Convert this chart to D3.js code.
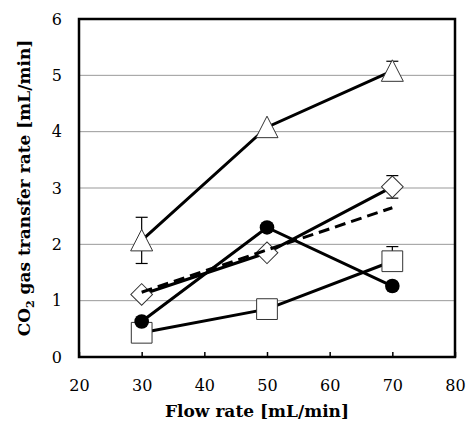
<!DOCTYPE html>
<html lang="en">
<head>
<meta charset="UTF-8">
<title>CO2 gas transfer rate</title>
<script src="https://d3js.org/d3.v7.min.js"></script>
<style>
  body { margin: 0; background: #fff; }
  text { font-family: "DejaVu Serif", serif; fill: #000; }
</style>
</head>
<body>
<div id="chart"></div>
<script>
// data
const flowRates = [30, 50, 70];
const triangleVals = [2.07, 4.08, 5.08];
const triangleErrUp = [0.41, 0, 0.17];
const triangleErrDown = [0.41, 0, 0.17];
const diamondVals = [1.11, 1.85, 3.02];
const diamondErrUp = [0, 0, 0.2];
const diamondErrDown = [0, 0, 0.2];
const circleVals = [0.63, 2.3, 1.26];
const circleErrUp = [0, 0, 0];
const circleErrDown = [0, 0, 0];
const squareVals = [0.43, 0.85, 1.7];
const squareErrUp = [0, 0, 0.26];
const squareErrDown = [0, 0, 0.1];
const dashedVals = [1.15, 1.9, 2.65];
const xTicks = [20, 30, 40, 50, 60, 70, 80];
const yTicks = [0, 1, 2, 3, 4, 5, 6];

const svg = d3.select("#chart").append("svg")
    .attr("width", 470)
    .attr("height", 426);

const margin = {top: 19, right: 15, bottom: 69, left: 79},
      width = 470 - margin.left - margin.right,
      height = 426 - margin.top - margin.bottom,
      g = svg.append("g").attr("transform", `translate(${margin.left},${margin.top})`);

const x = d3.scaleLinear().domain([20, 80]).range([0, width]);
const y = d3.scaleLinear().domain([0, 6]).range([height, 0]);

// gridlines
g.append("g")
  .selectAll("line")
  .data(yTicks.filter(d => d > 0 && d < 6))
  .enter().append("line")
    .attr("x1", 0).attr("x2", width)
    .attr("y1", d => y(d)).attr("y2", d => y(d))
    .attr("stroke", "#999")
    .attr("stroke-width", 1);

// x axis (ticks pointing inward)
const xAxis = g.append("g")
    .attr("transform", `translate(0,${height})`)
    .call(d3.axisBottom(x).tickValues(xTicks).tickFormat(d3.format("d"))
      .tickSizeInner(-5).tickSizeOuter(0).tickPadding(23));
xAxis.select(".domain").remove();
xAxis.selectAll(".tick line").attr("stroke", "#000").attr("stroke-width", 1.5);
xAxis.selectAll("text").style("font-size", "16px").attr("font-family", "DejaVu Serif");

// y axis
const yAxis = g.append("g")
    .call(d3.axisLeft(y).tickValues(yTicks).tickFormat(d3.format("d")).tickSize(0).tickPadding(17));
yAxis.select(".domain").remove();
yAxis.selectAll("text").style("font-size", "16px").attr("font-family", "DejaVu Serif");

// frame
g.append("rect")
    .attr("x", 0).attr("y", 0)
    .attr("width", width).attr("height", height)
    .attr("fill", "none")
    .attr("stroke", "#000")
    .attr("stroke-width", 2.5);

// square before circle so the filled circle sits on top at 30
const series = [
  {vals: triangleVals, up: triangleErrUp, down: triangleErrDown, shape: "triangle"},
  {vals: diamondVals, up: diamondErrUp, down: diamondErrDown, shape: "diamond"},
  {vals: squareVals, up: squareErrUp, down: squareErrDown, shape: "square"},
  {vals: circleVals, up: circleErrUp, down: circleErrDown, shape: "circle"}
];

const line = d3.line().x(d => x(d[0])).y(d => y(d[1]));

// error bars
series.forEach(s => {
  const eb = g.append("g");
  s.vals.forEach((v, i) => {
    const cx = x(flowRates[i]);
    [v + s.up[i], v - s.down[i]].forEach(t => {
      if (t === v) return;
      eb.append("line").attr("x1", cx).attr("x2", cx)
        .attr("y1", y(v)).attr("y2", y(t))
        .attr("stroke", "#000").attr("stroke-width", 1.2);
      eb.append("line").attr("x1", cx - 6).attr("x2", cx + 6)
        .attr("y1", y(t)).attr("y2", y(t))
        .attr("stroke", "#000").attr("stroke-width", 1.2);
    });
  });
});

// solid lines
series.forEach(s => {
  g.append("path")
    .datum(flowRates.map((f, i) => [f, s.vals[i]]))
    .attr("fill", "none")
    .attr("stroke", "#000")
    .attr("stroke-width", 3)
    .attr("d", line);
});

// markers
const trianglePath = "M0,-11L11,10.5L-11,10.5Z";
const symbolFor = {
  diamond: d3.symbol().type(d3.symbolSquare).size(235),
  square: d3.symbol().type(d3.symbolSquare).size(430)
};
series.forEach(s => {
  const mk = g.append("g");
  s.vals.forEach((v, i) => {
    const cx = x(flowRates[i]), cy = y(v);
    if (s.shape === "circle") {
      mk.append("circle").attr("cx", cx).attr("cy", cy).attr("r", 7.3).attr("fill", "#000");
    } else {
      let tr = `translate(${cx},${cy})`;
      if (s.shape === "diamond") tr += " rotate(45)";
      mk.append("path")
        .attr("d", s.shape === "triangle" ? trianglePath : symbolFor[s.shape]())
        .attr("transform", tr)
        .attr("fill", "#fff")
        .attr("stroke", "#333")
        .attr("stroke-width", 1);
    }
  });
});

// dashed line drawn on top
g.append("path")
  .datum(flowRates.map((f, i) => [f, dashedVals[i]]))
  .attr("fill", "none")
  .attr("stroke", "#000")
  .attr("stroke-width", 3)
  .attr("stroke-dasharray", "11,6")
  .attr("d", line);

// axis titles
svg.append("text")
    .attr("x", 257)
    .attr("y", 417)
    .attr("text-anchor", "middle")
    .style("font-size", "17px")
    .style("font-weight", "bold")
    .text("Flow rate [mL/min]");

const yt = svg.append("text")
    .attr("transform", `translate(30,${margin.top + height / 2}) rotate(-90)`)
    .attr("text-anchor", "middle")
    .style("font-size", "17px")
    .style("font-weight", "bold");
yt.append("tspan").text("CO");
yt.append("tspan").attr("dy", 4).style("font-size", "11px").text("2");
yt.append("tspan").attr("dy", -4).text(" gas transfer rate [mL/min]");
</script>
</body>
</html>
